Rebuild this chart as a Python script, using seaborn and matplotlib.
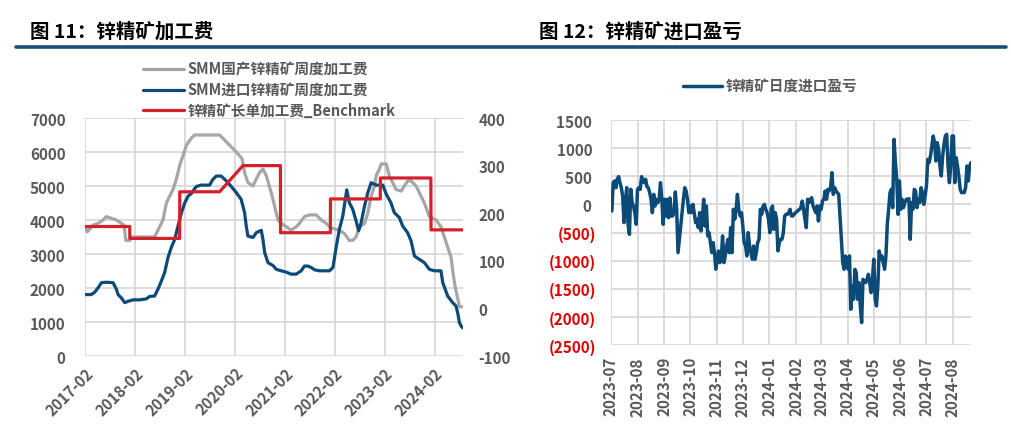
import numpy as np
import pandas as pd
import matplotlib
matplotlib.use("Agg")
import matplotlib.pyplot as plt
import matplotlib.dates as mdates
from matplotlib.lines import Line2D
import seaborn as sns

sns.set_theme(style="white")
plt.rcParams["font.family"] = ["Noto Sans CJK SC", "DejaVu Sans"]
plt.rcParams["font.weight"] = "bold"
plt.rcParams["axes.unicode_minus"] = False

# ---------------- data: figure 11 ----------------
gray_dates = ["2017-02-01","2017-02-18","2017-04-01","2017-05-07","2017-06-13","2017-07-07","2017-08-13","2017-09-19","2017-10-25","2017-11-14","2017-11-26","2017-12-25",
              "2018-01-12","2018-06-25","2018-07-07","2018-08-01","2018-08-25","2018-09-19","2018-10-13","2018-11-07","2018-12-01","2018-12-25",
              "2019-01-19","2019-02-13","2019-03-19","2019-04-13","2019-10-13","2019-11-07","2019-12-25",
              "2020-02-13","2020-03-26","2020-04-13","2020-05-07","2020-06-13","2020-07-07","2020-08-01","2020-08-25","2020-09-19","2020-10-25","2020-11-19","2020-12-13",
              "2021-01-07","2021-02-13","2021-03-19","2021-04-25","2021-05-19","2021-06-25","2021-08-01","2021-09-19","2021-10-25","2021-12-01","2021-12-25",
              "2022-01-19","2022-03-07","2022-04-13","2022-05-19","2022-06-13","2022-07-07","2022-08-01","2022-09-07","2022-10-01","2022-10-25","2022-11-19","2022-12-01","2022-12-25",
              "2023-01-07","2023-02-13","2023-03-07","2023-04-01","2023-04-25","2023-06-01","2023-06-25","2023-07-19","2023-08-13","2023-09-19","2023-10-13","2023-11-19","2023-12-25",
              "2024-02-13","2024-03-19","2024-04-13","2024-05-07","2024-06-01","2024-06-13","2024-07-02","2024-07-19","2024-08-01","2024-08-26"]
gray_vals = [3800,3650,3850,3900,4000,4100,4050,4000,3900,3850,3400,3400,
             3500,3500,3600,3800,4000,4500,4700,4900,5200,5600,
             5900,6200,6400,6500,6500,6400,6200,
             6000,5800,5400,5100,5000,5200,5400,5500,5300,4800,4400,4000,
             3900,3800,3700,3800,3900,4100,4150,4150,4000,3900,3800,
             3750,3700,3600,3400,3400,3500,3800,3900,4200,4700,5000,5300,5500,
             5650,5650,5300,5100,4900,4850,5000,5150,5150,5000,4800,4500,4100,
             4000,3800,3500,3200,2900,2500,2000,1700,1450,1450]

blue_dates = ["2017-02-01","2017-03-19","2017-04-13","2017-05-07","2017-06-01","2017-07-07","2017-08-25","2017-09-19","2017-10-01","2017-10-25","2017-11-19","2017-12-13",
              "2018-01-19","2018-03-07","2018-04-25","2018-05-19","2018-06-25","2018-07-19","2018-08-13","2018-09-07","2018-10-01","2018-10-25","2018-11-19","2018-12-13",
              "2019-01-07","2019-02-01","2019-02-25","2019-03-19","2019-04-25","2019-06-01","2019-08-01","2019-08-25","2019-09-19","2019-10-25","2019-12-01",
              "2020-01-07","2020-02-13","2020-03-19","2020-04-13","2020-04-25","2020-05-07","2020-06-13","2020-07-07","2020-08-13","2020-08-25","2020-09-07","2020-10-01","2020-11-07","2020-12-01",
              "2021-01-07","2021-02-13","2021-03-19","2021-04-25","2021-06-01","2021-06-25","2021-07-19","2021-08-13","2021-09-07","2021-10-13","2021-12-25",
              "2022-01-19","2022-02-13","2022-03-07","2022-04-01","2022-04-30","2022-05-19","2022-06-13","2022-07-07","2022-07-26","2022-08-13","2022-09-07","2022-10-01","2022-10-25","2022-12-01",
              "2023-01-19","2023-02-13","2023-03-19","2023-04-13","2023-05-19","2023-06-13","2023-07-19","2023-08-13","2023-09-07","2023-10-13","2023-11-19","2023-12-25",
              "2024-02-01","2024-03-19","2024-04-01","2024-05-07","2024-06-13","2024-07-07","2024-07-19","2024-08-01","2024-08-13","2024-08-26"]
blue_vals = [29,29,34,43,54,55,54,40,29,22,12,15,
             18,18,20,25,26,40,57,76,107,128,145,173,
             201,222,236,241,256,259,259,271,278,278,268,
             256,243,229,201,173,152,149,159,164,145,117,96,90,82,
             79,76,72,72,79,89,89,86,81,79,79,
             86,131,166,194,249,222,208,184,163,180,215,243,264,259,
             259,240,222,201,191,173,159,142,110,103,96,82,
             79,79,54,26,12,5,-9,-30,-37,-41]

red_dates = ["2017-02-01","2017-12-25","2017-12-26","2018-12-25","2018-12-26","2019-10-13","2020-04-01","2020-12-31",
             "2021-01-01","2021-12-31","2022-01-01","2022-12-31","2023-01-01","2024-01-05","2024-01-06","2024-08-26"]
red_vals = [172,172,147,147,245,245,300,300,159,159,230,230,274,274,165,165]

year_ticks = ["2017-02-01","2018-02-01","2019-02-01","2020-02-01","2021-02-01","2022-02-01","2023-02-01","2024-02-01"]
left_yticks = [0,1000,2000,3000,4000,5000,6000,7000]
right_yticks = [-100,0,100,200,300,400]

# ---------------- data: figure 12 ----------------
profit_start, profit_end = "2023-07-02", "2024-08-22"
profit_vals = [-117,386,416,297,446,493,386,297,149,-325,31,297,-354,-532,267,31,-29,-147,-354,267,297,267,493,416,386,446,315,297,209,90,
               -147,178,-29,90,31,90,386,90,-354,90,-206,90,-236,114,-206,-206,-147,220,-88,-858,-621,-384,-147,90,297,238,90,-147,-29,-147,
               0,-147,-325,-265,-413,-147,-473,-265,90,-384,-29,-562,-502,-680,-858,-680,-858,-1154,-976,-828,-1036,-976,-562,-1036,-917,-739,-621,-858,-413,-858,
               -88,-265,-88,178,-88,-206,-147,-384,-680,-739,-917,-502,-739,-858,-976,-739,-976,-858,-680,-621,-88,-177,-29,0,-88,-147,-265,-502,-88,-29,
               -443,-147,-265,-828,-680,-621,-621,-502,-206,-177,-177,-147,-88,-206,-206,-177,-147,-129,-106,-88,-58,59,-88,-265,-413,90,31,90,119,-29,
               -88,-147,-29,-295,-29,-88,59,90,238,90,267,238,297,564,178,297,238,209,178,-206,-621,-1036,-1154,-917,-976,-1154,-917,-1865,-1450,-1687,
               -1154,-1213,-1687,-1391,-1806,-2102,-1332,-1361,-1391,-1332,-1243,-1391,-1569,-1332,-976,-1687,-1806,-1450,-828,-976,-917,-1036,-1154,-917,-354,-88,209,267,-58,1156,
               742,446,-177,416,-88,90,-58,31,90,90,101,-621,31,-88,267,238,-58,90,31,297,209,0,149,327,801,742,860,1038,1216,1097,
               771,1097,979,682,505,860,1067,1216,1245,682,386,682,1216,1216,386,830,682,505,267,209,209,209,297,682,416,682,742]
month_ticks = ["2023-07-01","2023-08-01","2023-09-01","2023-10-01","2023-11-01","2023-12-01","2024-01-01",
               "2024-02-01","2024-03-01","2024-04-01","2024-05-01","2024-06-01","2024-07-01","2024-08-01"]
profit_yticks = [-2500,-2000,-1500,-1000,-500,0,500,1000,1500]

# ---------------- styling ----------------
GRAY = "#A6A6A6"
BLUE = "#0C4A78"
RED = "#D5202B"
GRID = "#D9D9D9"
TXT = "#595959"
NEG = "#E00000"
FS = 11

W, H = 1012, 427
def fx(px): return px / W
def fy(py): return 1 - py / H

fig = plt.figure(figsize=(W / 100, H / 100), dpi=100)
fig.patch.set_facecolor("white")

fig.text(fx(30), fy(32), "图 11：锌精矿加工费", fontsize=14, fontweight="bold", color="black", va="center", ha="left")
fig.text(fx(539), fy(32), "图 12：锌精矿进口盈亏", fontsize=14, fontweight="bold", color="black", va="center", ha="left")
fig.add_artist(Line2D([fx(16), fx(1006)], [fy(48), fy(48)], color="#1B4F7A", lw=2.6))

# ---------------- left chart ----------------
df_gray = pd.DataFrame({"date": pd.to_datetime(gray_dates), "value": gray_vals})
df_blue = pd.DataFrame({"date": pd.to_datetime(blue_dates), "value": blue_vals})
df_red = pd.DataFrame({"date": pd.to_datetime(red_dates), "value": red_vals})

ax1 = fig.add_axes([fx(85), fy(357), fx(463) - fx(85), fy(119) - fy(357)])
ax2 = ax1.twinx()
sns.lineplot(data=df_gray, x="date", y="value", ax=ax1, color=GRAY, lw=2.3, estimator=None)
sns.lineplot(data=df_blue, x="date", y="value", ax=ax2, color=BLUE, lw=2.3, estimator=None)
sns.lineplot(data=df_red, x="date", y="value", ax=ax2, color=RED, lw=2.3, estimator=None, sort=False)

ax1.set_xlim(pd.Timestamp("2017-02-01"), pd.Timestamp("2024-08-27"))
ax1.set_ylim(left_yticks[0], left_yticks[-1])
ax2.set_ylim(right_yticks[0], right_yticks[-1])
ax1.set_yticks(left_yticks)
ax2.set_yticks(right_yticks)
ax1.set_xticks(pd.to_datetime(year_ticks))
ax1.xaxis.set_major_formatter(mdates.DateFormatter("%Y-%m"))
ax1.grid(True, color=GRID, lw=1.3)
ax2.grid(False)
for a in (ax1, ax2):
    for s in a.spines.values():
        s.set_visible(False)
    a.set_xlabel("")
    a.set_ylabel("")
ax1.tick_params(axis="y", length=0, labelsize=FS, labelcolor=TXT, pad=14)
ax2.tick_params(axis="y", length=0, labelsize=FS, labelcolor=TXT, pad=11)
ax1.tick_params(axis="x", length=0, labelsize=FS, labelcolor=TXT, pad=6)
for lab in ax1.get_xticklabels():
    lab.set_rotation(45)
    lab.set_ha("right")
    lab.set_va("top")
    lab.set_rotation_mode("anchor")
if ax1.get_legend():
    ax1.get_legend().remove()

handles = [Line2D([], [], color=GRAY, lw=2.3), Line2D([], [], color=BLUE, lw=2.3), Line2D([], [], color=RED, lw=2.3)]
labels = ["SMM国产锌精矿周度加工费", "SMM进口锌精矿周度加工费", "锌精矿长单加工费_Benchmark"]
fig.legend(handles, labels, loc="upper left", bbox_to_anchor=(fx(143), fy(62)), frameon=False,
           borderpad=0, borderaxespad=0, handlelength=2.8, handletextpad=0.25, labelspacing=0.32,
           fontsize=10.5, labelcolor=TXT)

# ---------------- right chart ----------------
df_profit = pd.DataFrame({"date": pd.date_range(profit_start, profit_end, periods=len(profit_vals)),
                          "value": profit_vals})
ax3 = fig.add_axes([fx(611), fy(346), fx(971) - fx(611), fy(121) - fy(346)])
sns.lineplot(data=df_profit, x="date", y="value", ax=ax3, color=BLUE, lw=2.5, estimator=None)
ax3.set_xlim(pd.Timestamp("2023-07-01"), pd.Timestamp("2024-08-22"))
ax3.set_ylim(profit_yticks[0], profit_yticks[-1])
ax3.set_yticks(profit_yticks)
ax3.set_yticklabels([f"({abs(v)})" if v < 0 else f"{v} " for v in profit_yticks])
for lab, v in zip(ax3.get_yticklabels(), profit_yticks):
    lab.set_color(NEG if v < 0 else TXT)
ax3.set_xticks(pd.to_datetime(month_ticks))
ax3.xaxis.set_major_formatter(mdates.DateFormatter("%Y-%m"))
ax3.grid(True, color=GRID, lw=1.3)
for s in ax3.spines.values():
    s.set_visible(False)
ax3.set_xlabel("")
ax3.set_ylabel("")
ax3.tick_params(axis="y", length=0, labelsize=FS, pad=11)
ax3.tick_params(axis="x", length=0, labelsize=FS, labelcolor=TXT, pad=8)
for lab in ax3.get_xticklabels():
    lab.set_rotation(90)
    lab.set_ha("center")
    lab.set_va("top")

fig.legend([Line2D([], [], color=BLUE, lw=2.5)], ["锌精矿日度进口盈亏"], loc="upper left",
           bbox_to_anchor=(fx(683), fy(79)), frameon=False, borderpad=0, borderaxespad=0,
           handlelength=2.7, handletextpad=0.25, fontsize=10.5, labelcolor=TXT)

fig.savefig("out.png", dpi=100, facecolor="white")
